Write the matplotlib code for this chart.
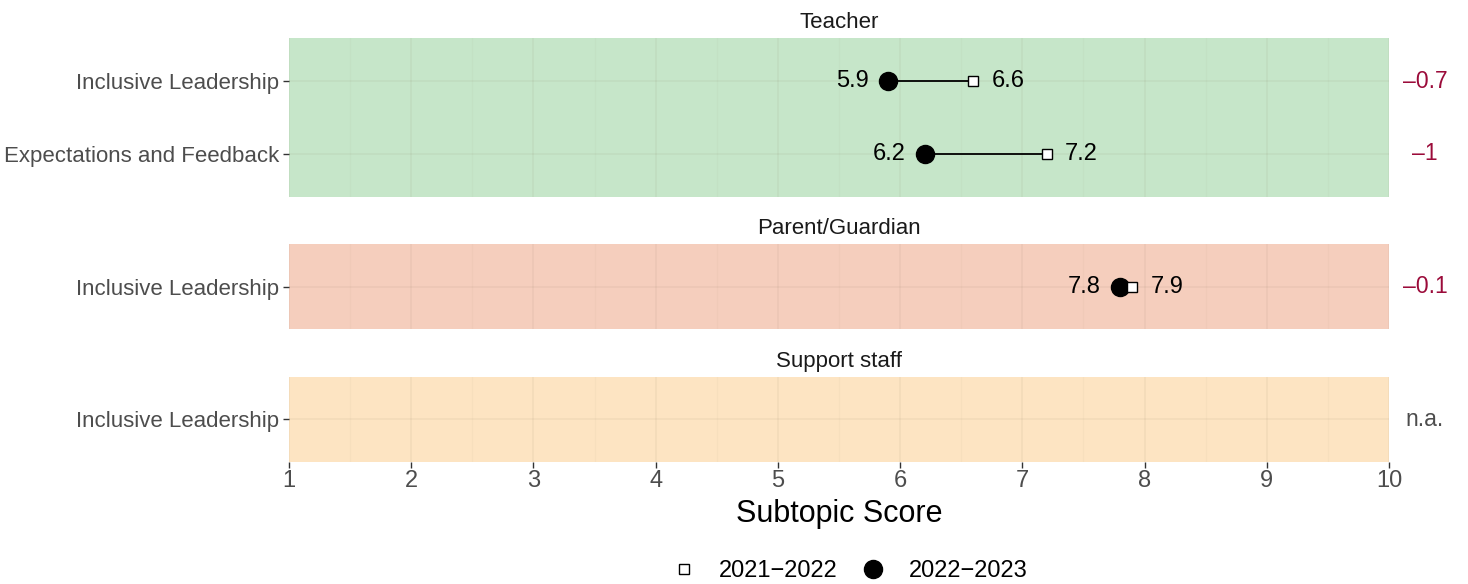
import matplotlib
matplotlib.use("Agg")
import matplotlib.pyplot as plt
from matplotlib.lines import Line2D
from matplotlib.transforms import blended_transform_factory

plt.rcParams['font.family'] = ['Liberation Sans', 'DejaVu Sans']

# data per panel
groups = ['Teacher', 'Parent/Guardian', 'Support staff']
subtopics = [['Inclusive Leadership', 'Expectations and Feedback'],
             ['Inclusive Leadership'],
             ['Inclusive Leadership']]
score_2122 = [[6.6, 7.2], [7.9], [None]]
score_2223 = [[5.9, 6.2], [7.8], [None]]
diff_labels = [['\u20130.7', '\u20131'], ['\u20130.1'], ['n.a.']]
panel_colors = ['#c6e6c9', '#f5cebd', '#fde4c2']

fig = plt.figure(figsize=(14.68, 5.84), dpi=100)

# axes boxes in figure fractions (left, bottom, width, height)
boxes = [(0.1969, 0.6627, 0.7493, 0.2722),
         (0.1969, 0.4366, 0.7493, 0.1456),
         (0.1969, 0.2089, 0.7493, 0.1456)]

for gi, g in enumerate(groups):
    ax = fig.add_axes(boxes[gi])
    n = len(subtopics[gi])
    ax.set_facecolor(panel_colors[gi])
    ax.set_xlim(1, 10)
    ax.set_ylim(n - 1 + 0.6, -0.6)
    for s in ax.spines.values():
        s.set_visible(False)

    # grid
    for x in range(1, 11):
        ax.axvline(x, color='#7a6a50', alpha=0.07, lw=1.3, zorder=0.5)
    for k in range(9):
        ax.axvline(1.5 + k, color='#7a6a50', alpha=0.04, lw=0.8, zorder=0.5)
    for yy in range(n):
        ax.axhline(yy, color='#7a6a50', alpha=0.07, lw=1.3, zorder=0.5)

    ax.set_yticks(range(n))
    ax.set_yticklabels(subtopics[gi], fontsize=16, color='#4d4d4d')
    ax.tick_params(axis='y', length=4, width=1, color='#333333', pad=3)

    if gi == len(groups) - 1:
        ax.set_xticks(range(1, 11))
        ax.tick_params(axis='x', labelsize=17, labelcolor='#4d4d4d',
                       length=4, width=1, color='#333333', pad=2)
        ax.set_xlabel('Subtopic Score', fontsize=22, labelpad=5)
    else:
        ax.set_xticks([])

    ax.set_title(g, fontsize=16, color='#1a1a1a', pad=7)

    trans = blended_transform_factory(ax.transAxes, ax.transData)
    for i in range(n):
        a = score_2122[gi][i]
        b = score_2223[gi][i]
        if a is not None:
            ax.plot([a, b], [i, i], color='black', lw=1.3, zorder=2)
            ax.plot(b, i, 'o', color='black', ms=13, zorder=3)
            ax.plot(a, i, 's', mfc='white', mec='black', ms=6.5, mew=1, zorder=4)
            ax.annotate(f'{b:.1f}', (b, i), xytext=(-14, 0), textcoords='offset points',
                        ha='right', va='center', fontsize=17)
            ax.annotate(f'{a:.1f}', (a, i), xytext=(13, 0), textcoords='offset points',
                        ha='left', va='center', fontsize=17)
            col = '#9b0b3a'
        else:
            col = '#4d4d4d'
        ax.text(1.0327, i, diff_labels[gi][i], transform=trans, ha='center',
                va='center', fontsize=16.5, color=col)

handles = [Line2D([], [], ls='none', marker='s', mfc='white', mec='black', ms=6.5, mew=1),
           Line2D([], [], ls='none', marker='o', color='black', ms=13)]
fig.legend(handles, ['2021\u22122022', '2022\u22122023'], loc='center',
           bbox_to_anchor=(0.578, 0.022), ncol=2, frameon=False, fontsize=17,
           handletextpad=0.9, columnspacing=0.9, handlelength=1.2)

fig.savefig('out.png', dpi=100)
